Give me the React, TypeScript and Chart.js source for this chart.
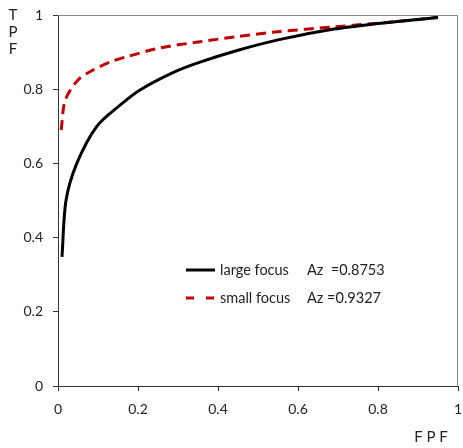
import React, { useEffect, useRef } from "react";
import { Chart, registerables } from "chart.js";

Chart.register(...registerables);

const largeFpf = [0.01, 0.02, 0.047, 0.097, 0.155, 0.205, 0.29, 0.355, 0.45, 0.55, 0.69, 0.8, 0.9, 0.95];
const largeTpf = [0.348, 0.5, 0.6, 0.7, 0.757, 0.798, 0.846, 0.873, 0.905, 0.933, 0.962, 0.977, 0.988, 0.993];
const smallFpf = [0.008, 0.018, 0.05, 0.088, 0.13, 0.17, 0.255, 0.355, 0.45, 0.55, 0.69, 0.8, 0.9, 0.95];
const smallTpf = [0.69, 0.77, 0.825, 0.852, 0.873, 0.887, 0.911, 0.928, 0.942, 0.955, 0.968, 0.978, 0.988, 0.994];
const legendLabels = ["large focus", "small focus"];
const azValues = ["Az  =0.8753", "Az =0.9327"];
const tickValues = [0, 0.2, 0.4, 0.6, 0.8, 1];

const FONT = "Lato, 'Open Sans', sans-serif";

export default function App() {
  const ref = useRef<HTMLCanvasElement | null>(null);
  useEffect(() => {
    if (!ref.current) return;
    const overlay = {
      id: "overlay",
      afterDraw(chart: any) {
        const ctx = chart.ctx;
        const a = chart.chartArea;
        ctx.save();
        // top and right frame
        ctx.strokeStyle = "#888888";
        ctx.lineWidth = 1;
        ctx.beginPath();
        ctx.moveTo(a.left, a.top + 0.5);
        ctx.lineTo(a.right - 0.5, a.top + 0.5);
        ctx.lineTo(a.right - 0.5, a.bottom);
        ctx.stroke();
        // axis titles
        ctx.fillStyle = "#222";
        ctx.font = `15px ${FONT}`;
        ctx.textAlign = "center";
        ctx.textBaseline = "middle";
        ["T", "P", "F"].forEach((c, i) => ctx.fillText(c, 13, 15 + i * 17));
        ctx.fillText("F P F", 431, 437);
        // legend
        const lx0 = 186;
        const lx1 = 215;
        const rows = [270, 298];
        const legendDash = [[], [8, 12]];
        ctx.font = `14.5px ${FONT}`;
        ctx.textAlign = "left";
        chart.data.datasets.forEach((ds: any, i: number) => {
          ctx.strokeStyle = ds.borderColor;
          ctx.lineWidth = 3;
          ctx.setLineDash(legendDash[i]);
          ctx.beginPath();
          ctx.moveTo(lx0, rows[i]);
          ctx.lineTo(lx1, rows[i]);
          ctx.stroke();
          ctx.setLineDash([]);
          ctx.fillStyle = "#222";
          ctx.fillText(legendLabels[i], 220, rows[i]);
          ctx.fillText(azValues[i], 307, rows[i]);
        });
        ctx.restore();
      },
    };
    const chart = new Chart(ref.current, {
      type: "scatter",
      data: {
        datasets: [
          {
            label: legendLabels[0],
            data: largeFpf.map((x, i) => ({ x, y: largeTpf[i] })),
            showLine: true,
            borderColor: "#000000",
            borderWidth: 3,
            pointRadius: 0,
            tension: 0.3,
          },
          {
            label: legendLabels[1],
            data: smallFpf.map((x, i) => ({ x, y: smallTpf[i] })),
            showLine: true,
            borderColor: "#c00000",
            borderWidth: 3,
            borderDash: [10, 6],
            pointRadius: 0,
            tension: 0.3,
          },
        ],
      },
      options: {
        responsive: false,
        animation: false,
        layout: { padding: { top: 15, right: 5, left: 0, bottom: 0 } },
        plugins: { legend: { display: false }, tooltip: { enabled: false } },
        scales: {
          x: {
            type: "linear",
            min: 0,
            max: 1,
            afterFit: (s: any) => { s.height = 62; s.paddingLeft = 0; s.paddingRight = 0; },
            afterBuildTicks: (s: any) => { s.ticks = tickValues.map((v) => ({ value: v })); },
            ticks: { padding: 10, color: "#222", font: { family: FONT, size: 14 }, callback: (v: any) => String(v) },
            grid: { drawOnChartArea: false, drawTicks: true, tickLength: 5, color: "#333" },
            border: { display: true, color: "#333", width: 1 },
          },
          y: {
            type: "linear",
            min: 0,
            max: 1,
            afterFit: (s: any) => { s.width = 58; s.paddingTop = 0; s.paddingBottom = 0; },
            afterBuildTicks: (s: any) => { s.ticks = tickValues.map((v) => ({ value: v })); },
            ticks: { padding: 10, color: "#222", font: { family: FONT, size: 14 }, callback: (v: any) => String(v) },
            grid: { drawOnChartArea: false, drawTicks: true, tickLength: 5, color: "#333" },
            border: { display: true, color: "#333", width: 1 },
          },
        },
      },
      plugins: [overlay],
    });
    return () => chart.destroy();
  }, []);
  return (
    <div style={{ position: "absolute", left: 0, top: 0, width: 463, height: 448, background: "#fff" }}>
      <canvas ref={ref} width={463} height={448} style={{ width: 463, height: 448 }} />
    </div>
  );
}
